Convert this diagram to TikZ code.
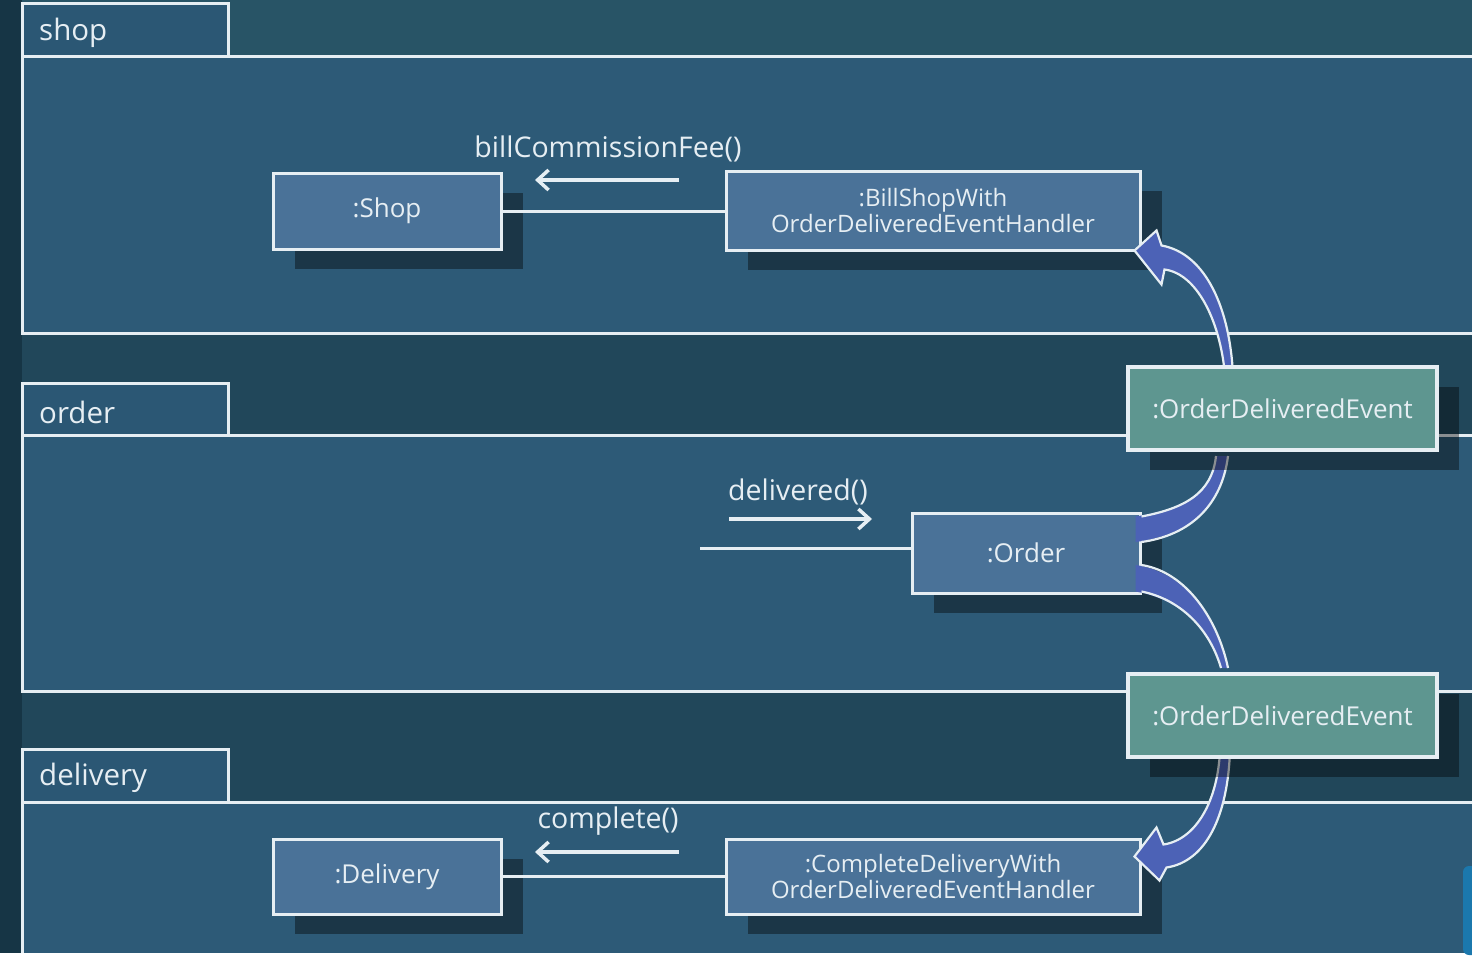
\documentclass[tikz,border=0pt]{standalone}
\usepackage{fontspec}
\setmainfont{Open Sans}
\usetikzlibrary{arrows.meta,calc,shadows}
\definecolor{bgbase}{HTML}{21475A}
\definecolor{bgleft}{HTML}{163545}
\definecolor{bgtop}{HTML}{285466}
\definecolor{pkgbody}{HTML}{2D5A77}
\definecolor{pkgtab}{HTML}{2B5774}
\definecolor{objfill}{HTML}{4A7298}
\definecolor{evfill}{HTML}{5E9690}
\definecolor{bandfill}{HTML}{4C62B6}
\definecolor{wline}{HTML}{E6EEF3}
\definecolor{uiblue}{HTML}{1B78AD}
\tikzset{
  pkgline/.style={draw=wline, line width=3pt},
  pkglabel/.style={anchor=west, inner sep=0pt, text=wline, font=\fontsize{29.5}{31}\selectfont},
  objbox/.style={draw=wline, line width=3pt, fill=objfill, text=wline, inner sep=0pt, align=center,
    drop shadow={shadow xshift=22pt, shadow yshift=-20pt, opacity=0.4, fill=black}},
  evbox/.style={draw=wline, line width=3.5pt, fill=evfill, text=wline, inner sep=0pt, align=center,
    minimum width=309, minimum height=83, font=\fontsize{26}{28}\selectfont,
    drop shadow={shadow xshift=22pt, shadow yshift=-20pt, opacity=0.4, fill=black}},
  objfont/.style={font=\fontsize{26}{28}\selectfont},
  hfont/.style={font=\fontsize{24}{26.5}\selectfont},
  msglabel/.style={inner sep=0pt, text=wline, font=\fontsize{28.5}{30}\selectfont},
  msgarrow/.style={draw=wline, line width=3.2pt, -{Straight Barb[length=11pt,width=20pt,line width=3.5pt]}},
  link/.style={draw=wline, line width=3pt},
  bandshape/.style={fill=bandfill},
  bandedge/.style={draw=wline, line width=2.2pt},
  arrowshape/.style={fill=bandfill, draw=wline, line width=2.2pt, line join=miter}
}
\begin{document}
\begin{tikzpicture}[x=1pt,y=-1pt]
\useasboundingbox (0,0) rectangle (1472,966);
\clip (0,0) rectangle (1472,966);
% background
\fill[bgbase] (0,0) rectangle (1472,966);
\fill[bgtop] (22,0) rectangle (1472,57);
\fill[bgleft] (0,0) rectangle (22,966);
% packages
\fill[pkgbody] (22,57) rectangle (1480,333);
\fill[pkgtab] (22,4) rectangle (228,57);
\draw[pkgline] (228,57) -- (228,4) -- (22,4) -- (22,57);
\draw[pkgline] (1480,57) -- (22,57) -- (22,333) -- (1480,333);
\node[pkglabel] (lshop) at (39,33) {shop};

\fill[pkgbody] (22,435) rectangle (1480,691);
\fill[pkgtab] (22,383) rectangle (228,435);
\draw[pkgline] (228,435) -- (228,383) -- (22,383) -- (22,435);
\draw[pkgline] (1480,435) -- (22,435) -- (22,691) -- (1480,691);
\node[pkglabel] (lorder) at (39,412) {order};

\fill[pkgbody] (22,802) rectangle (1480,953);
\fill[pkgtab] (22,749) rectangle (228,802);
\draw[pkgline] (228,802) -- (228,749) -- (22,749) -- (22,802);
\draw[pkgline] (1480,802) -- (22,802) -- (22,953);
\node[pkglabel] (ldelivery) at (39,778) {delivery};

% bottom strip and side element
\fill[white] (0,953) rectangle (1472,966);
\fill[uiblue, rounded corners=6pt] (1463,866) rectangle (1490,955);

% object boxes
\node[objbox, objfont, minimum width=228, minimum height=76] (shop) at (387,211) {:Shop};
\node[objbox, hfont, minimum width=414, minimum height=79] (billh) at (933,210.5) {:BillShopWith\\OrderDeliveredEventHandler};
\node[objbox, objfont, minimum width=228, minimum height=80] (order) at (1026,553) {:Order};
\node[objbox, objfont, minimum width=228, minimum height=75] (delivery) at (387,876.5) {:Delivery};
\node[objbox, hfont, minimum width=414, minimum height=75] (cdh) at (933,876.5) {:CompleteDeliveryWith\\OrderDeliveredEventHandler};

% links
\draw[link] (shop.east) -- (shop.east -| billh.west);
\draw[link] (delivery.east) -- (delivery.east -| cdh.west);
\coordinate (oin) at (700,548);
\draw[link] (oin) -- (oin -| order.west);

% messages
\node[msglabel] (mbill) at (608,149) {billCommissionFee()};
\coordinate (mbs) at (679,180);
\coordinate (mbe) at (535,180);
\draw[msgarrow] (mbs) -- (mbe);
\node[msglabel] (mdel) at (798,492) {delivered()};
\coordinate (mds) at (729,519);
\coordinate (mde) at (872,519);
\draw[msgarrow] (mds) -- (mde);
\node[msglabel] (mcomp) at (608,821) {complete()};
\coordinate (mcs) at (679,852);
\coordinate (mce) at (535,852);
\draw[msgarrow] (mcs) -- (mce);

% event node centres
\path (1282.5,408.5) coordinate (ev1c);
\path (1282.5,715.5) coordinate (ev2c);

% arrow event1 -> bill handler (head points left, shaft bends down to event)
\coordinate (T1) at ($(billh.south east)+(-7,-1)$);
\coordinate (A1) at (1233,375);
\coordinate (B1) at (1225,375);
\path[arrowshape] (A1) .. controls +(-3,-65) and +(45,8) .. ($(T1)+(27,-5)$)
  -- ($(T1)+(22,-20)$) -- (T1) -- ($(T1)+(27,34)$) -- ($(T1)+(30,19)$)
  .. controls +(32,4) and +(-5,-55) .. (B1) -- cycle;

% arrow event2 -> complete handler
\coordinate (T4) at ($(cdh.north east)+(-7,19)$);
\coordinate (A4) at (1230,750);
\coordinate (B4) at (1220,750);
\path[arrowshape] (A4) .. controls +(-2,65) and +(40,-6) .. ($(T4)+(32,11)$)
  -- ($(T4)+(25,24)$) -- (T4) -- ($(T4)+(22,-29)$) -- ($(T4)+(29,-12)$)
  .. controls +(33,-5) and +(-2,50) .. (B4) -- cycle;

% band order -> event1
\coordinate (P1) at ($(order.north east)+(-6,5)$);
\coordinate (P2) at (1216,456);
\coordinate (P3) at (1228,456);
\coordinate (P4) at ($(order.east)+(-6,-11)$);
\fill[bandshape] (P1) .. controls +(48,-8) and +(-4,38) .. (P2) -- (P3) .. controls +(-6,48) and +(56,-7) .. (P4) -- cycle;
\draw[bandedge] ($(P1)+(6,0)$) .. controls +(42,-8) and +(-4,38) .. (P2);
\draw[bandedge] (P3) .. controls +(-6,48) and +(50,-7) .. ($(P4)+(6,0)$);

% band order -> event2
\coordinate (Q1) at ($(order.east)+(-6,12)$);
\coordinate (Q2) at (1228,668);
\coordinate (Q3) at (1221,668);
\coordinate (Q4) at ($(order.south east)+(-6,-3)$);
\fill[bandshape] (Q1) .. controls +(51,7) and +(-10,-48) .. (Q2) -- (Q3) .. controls +(-11,-38) and +(46,8) .. (Q4) -- cycle;
\draw[bandedge] ($(Q1)+(6,0)$) .. controls +(45,7) and +(-10,-48) .. (Q2);
\draw[bandedge] (Q3) .. controls +(-11,-38) and +(40,8) .. ($(Q4)+(6,0)$);

% event boxes
\node[evbox] (ev1) at (ev1c) {:OrderDeliveredEvent};
\node[evbox] (ev2) at (ev2c) {:OrderDeliveredEvent};
\end{tikzpicture}
\end{document}
